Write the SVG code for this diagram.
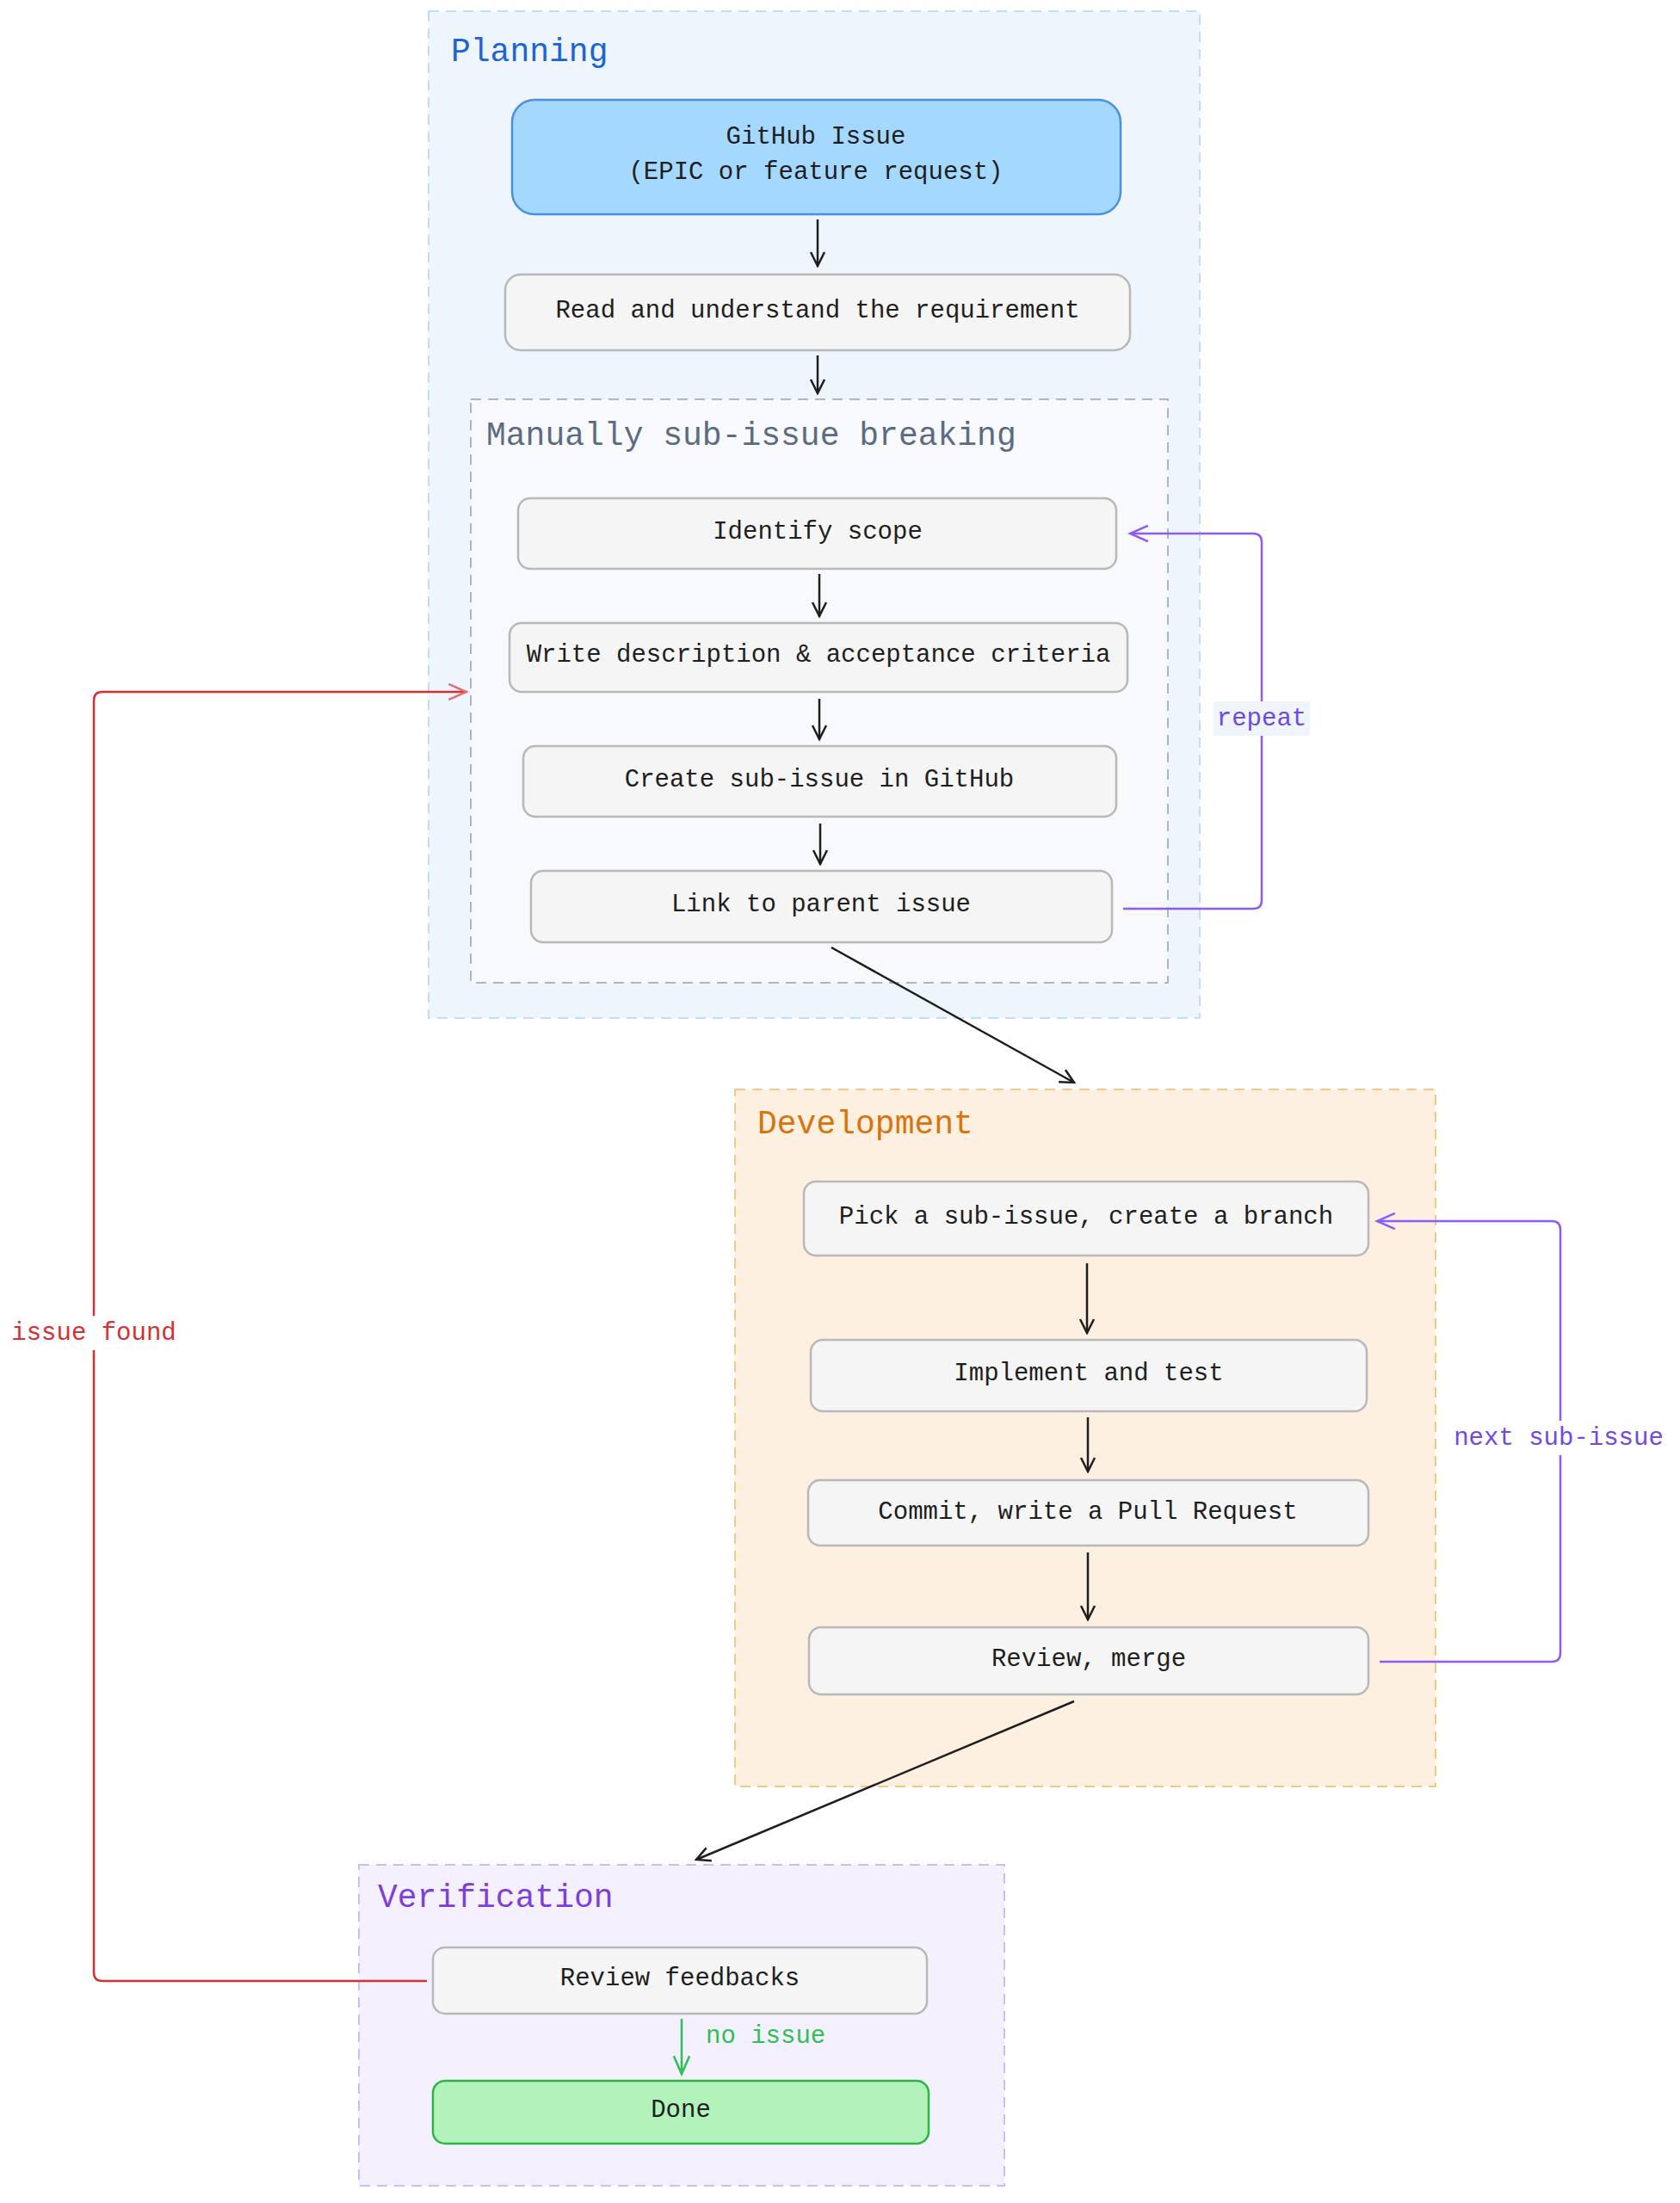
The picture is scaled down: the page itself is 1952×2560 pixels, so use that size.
<svg xmlns="http://www.w3.org/2000/svg" width="1952" height="2560" viewBox="0 0 1952 2560">
<style>
text{font-family:"Liberation Mono","DejaVu Sans Mono",monospace;}
.t{font-size:29px;fill:#1e1e1e;text-anchor:middle;dominant-baseline:central;}
.h{font-size:38px;dominant-baseline:central;}
.n{fill:#f5f5f5;stroke:#b8b8b8;stroke-width:2.5;}
.c{stroke-width:2;stroke-dasharray:12 8;}
.k{fill:none;stroke:#1e1e1e;stroke-width:2.5;}
.p{fill:none;stroke:#8b5cf6;stroke-width:2.5;}
.r{fill:none;stroke:#d63031;stroke-width:2.5;}
.g{fill:none;stroke:#2fbf57;stroke-width:2.5;}
</style>
<defs>
<marker id="ak" viewBox="0 0 20 20" refX="18" refY="10" markerWidth="20" markerHeight="20" markerUnits="userSpaceOnUse" orient="auto"><path d="M2 2 L18 10 L2 18" fill="none" stroke="#1e1e1e" stroke-width="2.5"/></marker>
<marker id="ap" viewBox="0 0 20 20" refX="18" refY="10" markerWidth="26" markerHeight="26" markerUnits="userSpaceOnUse" orient="auto"><path d="M2 3 L18 10 L2 17" fill="none" stroke="#8b5cf6" stroke-width="2"/></marker>
<marker id="ar" viewBox="0 0 20 20" refX="18" refY="10" markerWidth="26" markerHeight="26" markerUnits="userSpaceOnUse" orient="auto"><path d="M2 3 L18 10 L2 17" fill="none" stroke="#e07070" stroke-width="2"/></marker>
<marker id="ag" viewBox="0 0 20 20" refX="18" refY="10" markerWidth="26" markerHeight="26" markerUnits="userSpaceOnUse" orient="auto"><path d="M2 3 L18 10 L2 17" fill="none" stroke="#2fbf57" stroke-width="2"/></marker>
</defs>
<g id="planning">
<rect x="498" y="13" width="896" height="1170" fill="#eff5fd" stroke="#c5ddf3" class="c"/>
<text x="524" y="60" class="h" fill="#1c64d6">Planning</text>
</g>
<g id="subbreak">
<rect x="547" y="464" width="810" height="678" fill="#f7f9fd" stroke="#b0b4bc" class="c"/>
<text x="565" y="506" class="h" fill="#5d6b82">Manually sub-issue breaking</text>
</g>
<g id="development">
<rect x="854" y="1266" width="814" height="810" fill="#fdf0e1" stroke="#f5c97f" class="c"/>
<text x="880" y="1306" class="h" fill="#d9730d">Development</text>
</g>
<g id="verification">
<rect x="417" y="2167" width="750" height="373" fill="#f4f0fd" stroke="#cdbdf0" class="c"/>
<text x="439" y="2205" class="h" fill="#7e3fd9">Verification</text>
</g>
<g id="github"><rect x="595" y="116" width="707" height="133" rx="26" fill="#a5d8ff" stroke="#4a90e2" stroke-width="2.5"/>
<text x="948" y="159" class="t">GitHub Issue</text><text x="948" y="200" class="t">(EPIC or feature request)</text></g>
<g id="read"><rect x="587" y="319" width="726" height="88" rx="18" class="n"/><text x="950" y="361" class="t">Read and understand the requirement</text></g>
<g id="scope"><rect x="602" y="579" width="695" height="82" rx="14" class="n"/><text x="950" y="618" class="t">Identify scope</text></g>
<g id="desc"><rect x="592" y="724" width="718" height="80" rx="14" class="n"/><text x="951" y="761" class="t">Write description &amp; acceptance criteria</text></g>
<g id="create"><rect x="608" y="867" width="689" height="82" rx="14" class="n"/><text x="952" y="906" class="t">Create sub-issue in GitHub</text></g>
<g id="link"><rect x="617" y="1012" width="675" height="83" rx="14" class="n"/><text x="954" y="1051" class="t">Link to parent issue</text></g>
<g id="pick"><rect x="934" y="1373" width="656" height="86" rx="14" class="n"/><text x="1262" y="1414" class="t">Pick a sub-issue, create a branch</text></g>
<g id="impl"><rect x="942" y="1557" width="646" height="83" rx="14" class="n"/><text x="1265" y="1596" class="t">Implement and test</text></g>
<g id="commit"><rect x="939" y="1720" width="651" height="76" rx="14" class="n"/><text x="1264" y="1757" class="t">Commit, write a Pull Request</text></g>
<g id="merge"><rect x="940" y="1891" width="650" height="78" rx="14" class="n"/><text x="1265" y="1928" class="t">Review, merge</text></g>
<g id="feedback"><rect x="503" y="2263" width="574" height="77" rx="14" class="n"/><text x="790" y="2299" class="t">Review feedbacks</text></g>
<g id="done"><rect x="503" y="2418" width="576" height="73" rx="14" fill="#b2f2bb" stroke="#2fb344" stroke-width="2.5"/><text x="791" y="2452" class="t">Done</text></g>
<g id="connectors">
<path class="k" d="M950 255 L950 309" marker-end="url(#ak)"/>
<path class="k" d="M950 413 L950 457" marker-end="url(#ak)"/>
<path class="k" d="M952 667 L952 716" marker-end="url(#ak)"/>
<path class="k" d="M952 812 L952 859" marker-end="url(#ak)"/>
<path class="k" d="M953 957 L953 1004" marker-end="url(#ak)"/>
<path class="k" d="M966 1101 L1248 1258" marker-end="url(#ak)"/>
<path class="k" d="M1263 1468 L1263 1549" marker-end="url(#ak)"/>
<path class="k" d="M1264 1647 L1264 1710" marker-end="url(#ak)"/>
<path class="k" d="M1264 1804 L1264 1882" marker-end="url(#ak)"/>
<path class="k" d="M1248 1977 L809 2161" marker-end="url(#ak)"/>
<path class="p" d="M1305 1056 L1456 1056 Q1466 1056 1466 1046 L1466 630 Q1466 620 1456 620 L1313 620" marker-end="url(#ap)"/>
<path class="p" d="M1603 1931 L1803 1931 Q1813 1931 1813 1921 L1813 1429 Q1813 1419 1803 1419 L1600 1419" marker-end="url(#ap)"/>
<path class="r" d="M496 2302 L119 2302 Q109 2302 109 2292 L109 814 Q109 804 119 804 L542 804" marker-end="url(#ar)"/>
<path class="g" d="M792 2346 L792 2410" marker-end="url(#ag)"/>
<rect x="1410" y="815" width="112" height="40" fill="#eff5fd"/>
<text x="1466" y="835" class="t" fill="#7048e8" style="fill:#7048e8">repeat</text>
<rect x="1686" y="1651" width="250" height="40" fill="#ffffff"/>
<text x="1811" y="1671" class="t" style="fill:#7048e8">next sub-issue</text>
<rect x="12" y="1529" width="194" height="40" fill="#ffffff"/>
<text x="109" y="1549" class="t" style="fill:#d63031">issue found</text>
<text x="820" y="2366" class="t" style="fill:#2fbf57;text-anchor:start">no issue</text>
</g>
</svg>
